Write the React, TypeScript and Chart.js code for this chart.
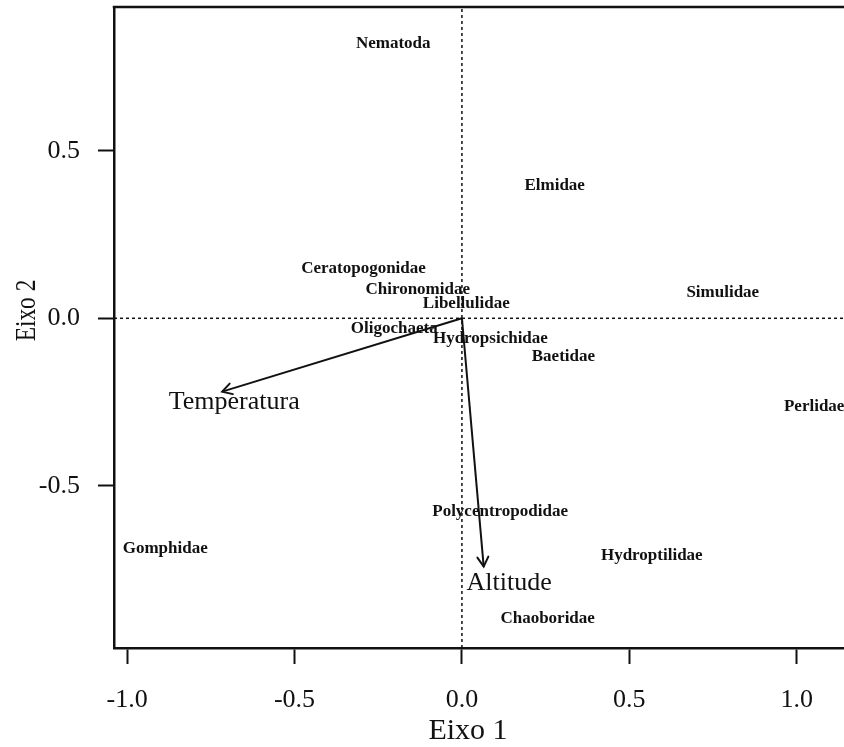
import React, { useEffect, useRef } from "react";
import { Chart, registerables } from "chart.js";

Chart.register(...registerables);

// Taxa scores on the first two ordination axes
const taxa = [
  "Nematoda",
  "Elmidae",
  "Ceratopogonidae",
  "Chironomidae",
  "Libellulidae",
  "Simulidae",
  "Oligochaeta",
  "Hydropsichidae",
  "Baetidae",
  "Perlidae",
  "Polycentropodidae",
  "Gomphidae",
  "Hydroptilidae",
  "Chaoboridae",
];
const taxaEixo1 = [-0.205, 0.277, -0.294, -0.132, 0.013, 0.779, -0.202, 0.085, 0.303, 1.052, 0.114, -0.886, 0.567, 0.256];
const taxaEixo2 = [0.819, 0.395, 0.149, 0.085, 0.045, 0.076, -0.03, -0.06, -0.113, -0.264, -0.577, -0.686, -0.707, -0.895];

// Environmental variables (arrow tips and label anchors)
const variables = ["Temperatura", "Altitude"];
const varEixo1 = [-0.716, 0.065];
const varEixo2 = [-0.219, -0.741];
const varLabelEixo1 = [-0.68, 0.141];
const varLabelEixo2 = [-0.249, -0.79];

// Axes
const xTicks = [-1.0, -0.5, 0.0, 0.5, 1.0];
const yTicks = [-0.5, 0.0, 0.5];
const xLimits = [-1.039, 1.141];
const yLimits = [-0.984, 0.929];
const xTitle = "Eixo 1";
const yTitle = "Eixo 2";

const SERIF = "'Liberation Serif', 'Times New Roman', serif";
const INK = "#111";

const biplotPlugin = {
  id: "biplotText",
  afterDatasetsDraw(chart: any) {
    const { ctx, scales } = chart;
    const xs = scales.x;
    const ys = scales.y;
    ctx.save();
    ctx.fillStyle = INK;
    ctx.strokeStyle = INK;
    ctx.textAlign = "center";
    ctx.textBaseline = "middle";

    // arrowheads
    const ox = xs.getPixelForValue(0);
    const oy = ys.getPixelForValue(0);
    ctx.lineWidth = 2;
    ctx.lineCap = "round";
    variables.forEach((_, i) => {
      const tx = xs.getPixelForValue(varEixo1[i]);
      const ty = ys.getPixelForValue(varEixo2[i]);
      const ang = Math.atan2(ty - oy, tx - ox);
      const len = 11;
      const spread = Math.PI / 6;
      ctx.beginPath();
      ctx.moveTo(tx - len * Math.cos(ang - spread), ty - len * Math.sin(ang - spread));
      ctx.lineTo(tx, ty);
      ctx.lineTo(tx - len * Math.cos(ang + spread), ty - len * Math.sin(ang + spread));
      ctx.stroke();
    });

    // variable labels
    ctx.font = `26px ${SERIF}`;
    variables.forEach((name, i) => {
      ctx.fillText(name, xs.getPixelForValue(varLabelEixo1[i]), ys.getPixelForValue(varLabelEixo2[i]));
    });

    // taxa labels
    ctx.font = `bold 17px ${SERIF}`;
    const meta = chart.getDatasetMeta(chart.data.datasets.length - 1);
    meta.data.forEach((el: any, i: number) => {
      ctx.fillText(taxa[i], el.x, el.y);
    });
    ctx.restore();
  },
  afterDraw(chart: any) {
    const { ctx, chartArea } = chart;
    ctx.save();
    // top edge of the frame
    ctx.strokeStyle = INK;
    ctx.lineWidth = 2.5;
    ctx.beginPath();
    ctx.moveTo(chartArea.left - 1.25, chartArea.top);
    ctx.lineTo(chartArea.right, chartArea.top);
    ctx.stroke();

    // axis titles
    ctx.fillStyle = INK;
    ctx.textAlign = "center";
    ctx.textBaseline = "middle";
    ctx.font = `30px ${SERIF}`;
    ctx.fillText(xTitle, (chartArea.left + chartArea.right) / 2 - 11, chartArea.bottom + 83);

    ctx.translate(27, (chartArea.top + chartArea.bottom) / 2 - 17);
    ctx.rotate(-Math.PI / 2);
    ctx.scale(0.78, 1);
    ctx.fillText(yTitle, 0, 0);
    ctx.restore();
  },
};

const fmt = (v: any) => Number(v).toFixed(1);

export default function App() {
  const ref = useRef<HTMLCanvasElement | null>(null);

  useEffect(() => {
    document.body.style.margin = "0";
    const canvas = ref.current;
    if (!canvas) return;

    const refLine = (pts: { x: number; y: number }[]) => ({
      type: "line" as const,
      data: pts,
      borderColor: INK,
      borderWidth: 1.5,
      borderDash: [3, 3],
      pointRadius: 0,
      fill: false,
      showLine: true,
    });

    const arrows = variables.map((name, i) => ({
      type: "line" as const,
      label: name,
      data: [
        { x: 0, y: 0 },
        { x: varEixo1[i], y: varEixo2[i] },
      ],
      borderColor: INK,
      borderWidth: 2,
      pointRadius: 0,
      fill: false,
      showLine: true,
    }));

    const chart = new Chart(canvas, {
      type: "scatter",
      data: {
        datasets: [
          refLine([
            { x: 0, y: yLimits[0] },
            { x: 0, y: yLimits[1] },
          ]),
          refLine([
            { x: xLimits[0], y: 0 },
            { x: xLimits[1], y: 0 },
          ]),
          ...arrows,
          {
            type: "scatter" as const,
            label: "Taxa",
            data: taxa.map((_, i) => ({ x: taxaEixo1[i], y: taxaEixo2[i] })),
            pointRadius: 0,
            showLine: false,
          },
        ] as any,
      },
      options: {
        responsive: false,
        animation: false,
        events: [],
        layout: { padding: { top: 7, right: 0, bottom: 0, left: 0 } },
        plugins: {
          legend: { display: false },
          tooltip: { enabled: false },
          title: { display: false },
        },
        scales: {
          x: {
            type: "linear",
            min: xLimits[0],
            max: xLimits[1],
            afterBuildTicks: (s: any) => {
              s.ticks = xTicks.map((v) => ({ value: v }));
            },
            afterFit: (s: any) => {
              s.height = 99;
              s.paddingLeft = 0;
              s.paddingRight = 0;
            },
            border: { display: true, color: INK, width: 2.5 },
            grid: {
              drawOnChartArea: false,
              drawTicks: true,
              tickLength: 16,
              tickWidth: 2,
              tickColor: INK,
            },
            ticks: {
              autoSkip: false,
              maxRotation: 0,
              padding: 21,
              color: INK,
              font: { family: SERIF, size: 26 },
              callback: (v: any) => fmt(v),
            },
          },
          y: {
            type: "linear",
            min: yLimits[0],
            max: yLimits[1],
            afterBuildTicks: (s: any) => {
              s.ticks = yTicks.map((v) => ({ value: v }));
            },
            afterFit: (s: any) => {
              s.width = 114;
              s.paddingTop = 0;
              s.paddingBottom = 0;
            },
            border: { display: true, color: INK, width: 2.5 },
            grid: {
              drawOnChartArea: false,
              drawTicks: true,
              tickLength: 16,
              tickWidth: 2,
              tickColor: INK,
            },
            ticks: {
              autoSkip: false,
              padding: 18,
              color: INK,
              font: { family: SERIF, size: 26 },
              callback: (v: any) => fmt(v),
            },
          },
        },
      },
      plugins: [biplotPlugin],
    });

    return () => chart.destroy();
  }, []);

  return <canvas ref={ref} width={844} height={747} style={{ display: "block" }} />;
}
